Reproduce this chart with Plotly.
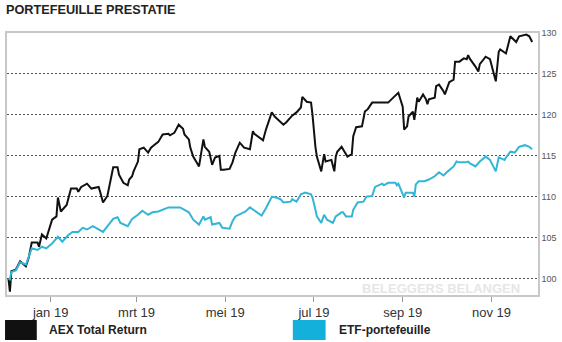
import plotly.graph_objects as go

# ---- data ----
aex_dates = [
    "2019-01-02", "2019-01-03", "2019-01-04", "2019-01-07", "2019-01-10", "2019-01-14", "2019-01-16",
    "2019-01-18", "2019-01-22", "2019-01-23", "2019-01-25", "2019-01-28", "2019-02-01", "2019-02-04",
    "2019-02-05", "2019-02-07", "2019-02-11", "2019-02-14", "2019-02-18", "2019-02-19", "2019-02-21",
    "2019-02-25", "2019-02-28", "2019-03-05", "2019-03-06", "2019-03-08", "2019-03-11", "2019-03-15",
    "2019-03-18", "2019-03-19", "2019-03-22", "2019-03-25", "2019-03-26", "2019-03-28", "2019-03-29",
    "2019-04-01", "2019-04-02", "2019-04-05", "2019-04-08", "2019-04-10", "2019-04-12", "2019-04-15",
    "2019-04-18", "2019-04-22", "2019-04-23", "2019-04-26", "2019-04-29", "2019-05-02", "2019-05-03",
    "2019-05-06", "2019-05-07", "2019-05-09", "2019-05-13", "2019-05-14", "2019-05-16", "2019-05-17",
    "2019-05-20", "2019-05-22", "2019-05-24", "2019-05-27", "2019-05-28", "2019-05-30", "2019-06-03",
    "2019-06-05", "2019-06-07", "2019-06-10", "2019-06-13", "2019-06-17", "2019-06-19", "2019-06-20",
    "2019-06-24", "2019-06-26", "2019-06-28", "2019-07-02", "2019-07-04", "2019-07-08", "2019-07-10",
    "2019-07-12", "2019-07-16", "2019-07-19", "2019-07-22", "2019-07-23", "2019-07-26", "2019-07-29",
    "2019-07-30", "2019-08-01", "2019-08-02", "2019-08-05", "2019-08-07", "2019-08-08", "2019-08-12",
    "2019-08-14", "2019-08-15", "2019-08-16", "2019-08-19", "2019-08-21", "2019-08-23", "2019-08-26",
    "2019-08-27", "2019-08-29", "2019-09-02", "2019-09-04", "2019-09-06", "2019-09-09", "2019-09-11",
    "2019-09-20", "2019-09-24", "2019-09-27", "2019-09-30", "2019-10-01", "2019-10-03", "2019-10-04",
    "2019-10-07", "2019-10-08", "2019-10-09", "2019-10-10", "2019-10-11", "2019-10-14", "2019-10-16",
    "2019-10-17", "2019-10-18", "2019-10-22", "2019-10-23", "2019-10-25", "2019-10-28", "2019-10-29",
    "2019-11-01", "2019-11-04", "2019-11-05", "2019-11-07", "2019-11-08", "2019-11-11", "2019-11-13",
    "2019-11-14", "2019-11-15", "2019-11-19", "2019-11-21", "2019-11-22", "2019-11-26", "2019-11-29",
    "2019-12-03", "2019-12-05", "2019-12-06", "2019-12-10", "2019-12-12", "2019-12-13", "2019-12-17",
    "2019-12-19", "2019-12-24", "2019-12-26", "2019-12-28",
]
aex_values = [
    100.0, 98.4, 100.9, 101.1, 102.1, 101.5, 102.6,
    104.4, 104.4, 103.9, 105.4, 104.9, 107.2, 107.6,
    109.9, 108.2, 109.0, 111.0, 111.0, 110.6, 111.2,
    111.6, 111.0, 111.2, 110.6, 109.3, 110.1, 113.6,
    113.6, 112.7, 111.7, 111.4, 112.1, 112.5, 113.1,
    114.3, 115.8, 116.0, 115.4, 116.0, 116.3, 116.7,
    117.6, 117.7, 117.5, 117.8, 118.8, 118.3, 117.6,
    117.0, 116.0, 114.9, 113.7, 114.8, 117.0, 116.1,
    115.5, 113.9, 114.8, 115.0, 113.3, 113.3, 113.4,
    114.2, 115.4, 116.6, 116.0, 115.8, 118.0, 117.7,
    117.2, 116.9, 118.2, 120.3, 119.8, 119.2, 118.8,
    119.1, 119.9, 120.3, 120.9, 122.2, 121.6, 121.5,
    120.0, 116.1, 114.9, 113.1, 115.2, 114.3, 114.5,
    113.1, 114.9, 115.5, 116.1, 115.5, 114.9, 115.2,
    117.4, 118.5, 118.6, 120.4, 120.7, 121.5, 121.5,
    121.5, 122.2, 122.7, 121.0, 118.2, 118.6, 119.8,
    120.4, 119.4, 120.7, 122.1, 121.6, 122.5, 121.9,
    121.3, 121.9, 122.1, 123.5, 123.7, 122.9, 122.5,
    124.0, 124.3, 126.5, 126.5, 126.5, 126.9, 126.8,
    127.3, 126.9, 125.9, 125.3, 126.2, 127.1, 126.8,
    124.1, 127.7, 128.0, 127.5, 128.9, 129.6, 128.9,
    129.6, 129.8, 129.6, 128.9,
]

etf_dates = [
    "2019-01-02", "2019-01-03", "2019-01-04", "2019-01-07", "2019-01-10", "2019-01-14", "2019-01-16",
    "2019-01-18", "2019-01-22", "2019-01-25", "2019-01-28", "2019-02-01", "2019-02-05", "2019-02-08",
    "2019-02-12", "2019-02-15", "2019-02-19", "2019-02-22", "2019-02-25", "2019-03-01", "2019-03-08",
    "2019-03-11", "2019-03-15", "2019-03-18", "2019-03-20", "2019-03-25", "2019-03-28", "2019-04-01",
    "2019-04-04", "2019-04-08", "2019-04-11", "2019-04-15", "2019-04-22", "2019-04-25", "2019-04-30",
    "2019-05-03", "2019-05-06", "2019-05-09", "2019-05-13", "2019-05-16", "2019-05-17", "2019-05-21",
    "2019-05-22", "2019-05-27", "2019-05-29", "2019-06-03", "2019-06-05", "2019-06-07", "2019-06-12",
    "2019-06-14", "2019-06-17", "2019-06-21", "2019-06-25", "2019-06-28", "2019-07-02", "2019-07-05",
    "2019-07-08", "2019-07-10", "2019-07-15", "2019-07-16", "2019-07-19", "2019-07-22", "2019-07-25",
    "2019-07-29", "2019-07-30", "2019-08-01", "2019-08-02", "2019-08-05", "2019-08-07", "2019-08-09",
    "2019-08-13", "2019-08-15", "2019-08-19", "2019-08-20", "2019-08-22", "2019-08-26", "2019-08-27",
    "2019-08-30", "2019-09-03", "2019-09-05", "2019-09-09", "2019-09-11", "2019-09-16", "2019-09-17",
    "2019-09-20", "2019-09-25", "2019-09-26", "2019-09-27", "2019-10-01", "2019-10-02", "2019-10-07",
    "2019-10-08", "2019-10-09", "2019-10-11", "2019-10-15", "2019-10-18", "2019-10-22", "2019-10-25",
    "2019-10-28", "2019-10-31", "2019-11-04", "2019-11-06", "2019-11-08", "2019-11-12", "2019-11-14",
    "2019-11-15", "2019-11-19", "2019-11-22", "2019-11-26", "2019-11-29", "2019-12-03", "2019-12-05",
    "2019-12-09", "2019-12-10", "2019-12-13", "2019-12-16", "2019-12-19", "2019-12-23", "2019-12-26",
    "2019-12-28",
]
etf_values = [
    100.0, 99.9, 100.8, 101.0, 102.0, 101.7, 102.7,
    103.7, 103.5, 103.9, 103.7, 104.3, 105.1, 104.5,
    105.3, 105.7, 105.7, 106.2, 106.0, 106.4, 105.7,
    106.4, 107.3, 107.5, 106.8, 106.4, 107.3, 107.8,
    108.3, 107.8, 108.1, 108.2, 108.7, 108.7, 108.7,
    108.4, 108.1, 107.2, 106.6, 107.6, 107.2, 107.5,
    106.6, 106.8, 106.2, 106.1, 107.0, 107.6, 108.1,
    108.2, 108.7, 108.2, 107.7, 108.6, 110.0, 109.9,
    109.7, 109.3, 109.4, 109.7, 109.4, 110.3, 110.5,
    110.3, 109.9, 108.4, 107.6, 106.8, 107.8, 107.2,
    106.8, 107.6, 108.1, 108.1, 107.6, 107.6, 108.4,
    109.3, 109.4, 110.0, 110.1, 111.2, 111.6, 111.4,
    111.7, 111.7, 111.4, 111.6, 109.9, 110.5, 110.5,
    110.0, 111.5, 111.9, 111.9, 112.1, 112.5, 113.0,
    112.6, 113.1, 113.7, 114.3, 114.2, 114.2, 114.3,
    114.1, 113.7, 114.3, 114.9, 114.5, 113.1, 114.8,
    114.5, 114.8, 115.5, 115.4, 116.1, 116.3, 116.1,
    115.8,
]

tick_dates = ["2019-01-31", "2019-03-31", "2019-05-31", "2019-07-31", "2019-09-30", "2019-11-30"]
tick_labels = ["jan 19", "mrt 19", "mei 19", "jul 19", "sep 19", "nov 19"]
y_ticks = [100, 105, 110, 115, 120, 125, 130]

series_names = ["AEX Total Return", "ETF-portefeuille"]
line_colors = ["#111111", "#33b6d6"]
swatch_colors = ["#111111", "#12b0da"]

SANS = "Liberation Sans, Arial, sans-serif"

fig = go.Figure()
fig.add_trace(go.Scatter(x=aex_dates, y=aex_values, mode="lines", name=series_names[0],
                         line=dict(color=line_colors[0], width=2)))
fig.add_trace(go.Scatter(x=etf_dates, y=etf_values, mode="lines", name=series_names[1],
                         line=dict(color=line_colors[1], width=2)))

fig.update_layout(
    width=562, height=342,
    margin=dict(l=5, r=22, t=33, b=47),
    paper_bgcolor="white", plot_bgcolor="white",
    showlegend=False,
    xaxis=dict(
        range=["2019-01-01", "2020-01-01"],
        tickmode="array", tickvals=tick_dates, ticktext=tick_labels,
        ticks="outside", ticklen=5, tickcolor="#9a9a9a", tickwidth=1,
        showgrid=False, zeroline=False,
        showline=True, linecolor="#c8c8c8", linewidth=1.5, mirror=True,
        tickfont=dict(family=SANS, size=13, color="#333333"),
    ),
    yaxis=dict(
        range=[98, 130], side="right",
        tickmode="array", tickvals=y_ticks,
        ticks="", showgrid=True, gridcolor="#555555", gridwidth=1, griddash="2px,2px",
        zeroline=False,
        showline=True, linecolor="#c8c8c8", linewidth=1.5, mirror=True,
        tickfont=dict(family=SANS, size=9, color="#555555"),
    ),
)

# title
fig.add_annotation(text="<b>PORTEFEUILLE PRESTATIE</b>", xref="paper", yref="paper",
                   x=-0.0056, y=1.088, xanchor="left", yanchor="middle", showarrow=False,
                   font=dict(family=SANS, size=12.7, color="#222222"))

# watermark
fig.add_annotation(text="<b>BELEGGERS BELANGEN</b>", xref="paper", yref="paper",
                   x=0.970, y=0.025, xanchor="right", yanchor="middle", showarrow=False,
                   font=dict(family=SANS, size=13, color="#e6e6e6"))

# legend swatches + labels
legend_x = [(-0.0037, 0.0561, 0.0748), (0.5383, 0.6000, 0.6215)]
for (x0, x1, tx), name, col in zip(legend_x, series_names, swatch_colors):
    fig.add_shape(type="rect", xref="paper", yref="paper", x0=x0, x1=x1,
                  y0=-0.1718, y1=-0.0954, fillcolor=col, line=dict(width=0))
    fig.add_annotation(text="<b>" + name + "</b>", xref="paper", yref="paper",
                       x=tx, y=-0.1336, xanchor="left", yanchor="middle", showarrow=False,
                       font=dict(family=SANS, size=12, color="#222222"))

fig.write_html("out.html")
